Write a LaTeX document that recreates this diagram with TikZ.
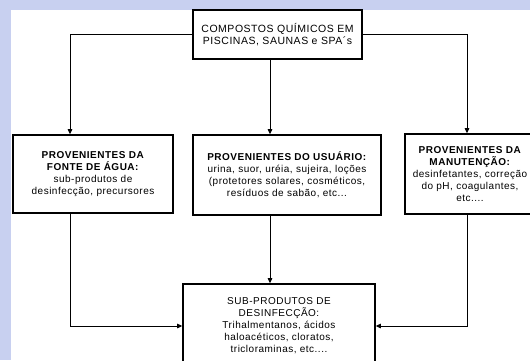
\documentclass[tikz,border=0pt]{standalone}
\usepackage{fontspec}
\usetikzlibrary{arrows.meta}
\newfontfamily\boxfont[LetterSpace=5]{Liberation Sans}
\definecolor{slidebg}{RGB}{200,208,240}

\begin{document}
\begin{tikzpicture}[x=1pt, y=-1pt, >={Triangle[length=5pt,width=4.5pt]},
	chem box/.style={draw, line width=1.6pt, fill=white, align=center, inner sep=0pt,
		font=\boxfont\fontsize{10}{12}\selectfont},
	link/.style={->, line width=0.9pt}]
	
	\path[use as bounding box] (0,0) rectangle (530,360);
	\clip (0,0) rectangle (530,360);
	\fill[slidebg] (0,0) rectangle (530,360);
	\fill[white] (11,10) rectangle (530,360);
	
	\node [chem box, minimum width=169, minimum height=49, font=\boxfont\fontsize{10.5}{12}\selectfont] (compostos) at (277.5,34.5)
	{COMPOSTOS QUÍMICOS EM\\PISCINAS, SAUNAS e SPA´s};
	
	\node [chem box, minimum width=160, minimum height=78] (fonte) at (93,174)
	{\textbf{PROVENIENTES DA}\\\textbf{FONTE DE ÁGUA:}\\sub-produtos de\\desinfecção, precursores};
	
	\node [chem box, minimum width=188, minimum height=80] (usuario) at (287,175)
	{\textbf{PROVENIENTES DO USUÁRIO:}\\urina, suor, uréia, sujeira, loções\\(protetores solares, cosméticos,\\resíduos de sabão, etc...};
	
	\node [chem box, minimum width=130, minimum height=80] (manutencao) at (470,174)
	{\textbf{PROVENIENTES DA}\\\textbf{MANUTENÇÃO:}\\desinfetantes, correção\\do pH, coagulantes,\\etc....};
	
	\node [chem box, minimum width=192, minimum height=84] (subprodutos) at (279,326)
	{SUB-PRODUTOS DE\\DESINFECÇÃO:\\Trihalmentanos, ácidos\\haloacéticos, cloratos,\\tricloraminas, etc....};
	
	\coordinate (left rail) at (70,0);
	\coordinate (mid rail) at (270,0);
	\coordinate (right rail) at (467,0);
	
	\draw [link] (compostos.west) -| (left rail |- fonte.north);
	\draw [link] (compostos.east) -| (right rail |- manutencao.north);
	\draw [link] (mid rail |- compostos.south) -- (mid rail |- usuario.north);
	\draw [link] (mid rail |- usuario.south) -- (mid rail |- subprodutos.north);
	\draw [link] (left rail |- fonte.south) |- (subprodutos.west);
	\draw [link] (right rail |- manutencao.south) |- (subprodutos.east);
\end{tikzpicture}
\end{document}
